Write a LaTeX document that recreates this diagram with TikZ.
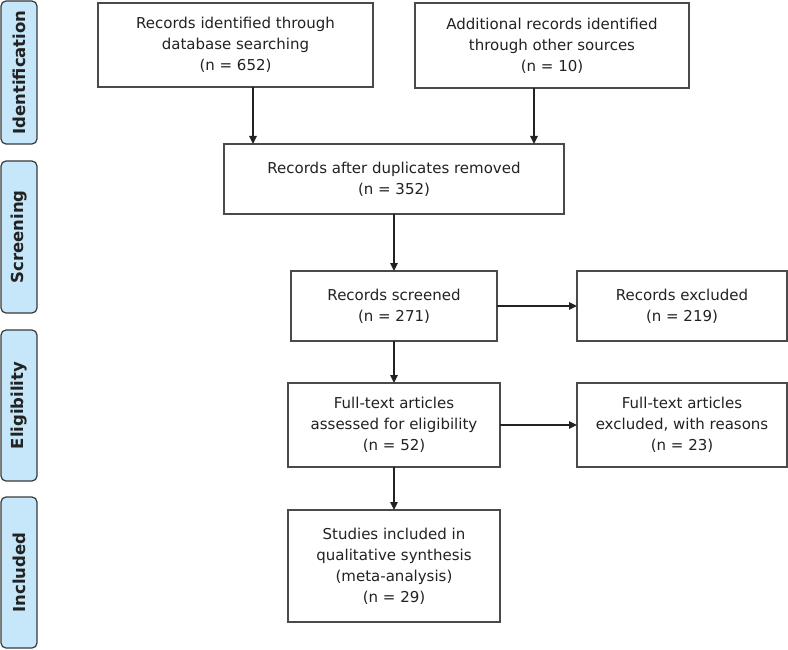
\documentclass[tikz,border=0pt]{standalone}
\usepackage{fontspec}
\setmainfont{DejaVu Sans}
\usetikzlibrary{arrows.meta}
\definecolor{sidefill}{HTML}{C6E7F9}
\definecolor{sideline}{HTML}{3A3A3A}
\definecolor{boxline}{HTML}{4A4A4A}
\definecolor{txt}{HTML}{222222}
\tikzset{
  box/.style={draw=boxline, line width=1.3pt, fill=white, inner sep=0pt, outer sep=0pt,
    align=center, text=txt, font=\fontsize{15}{21}\selectfont},
  side/.style={draw=sideline, line width=1.2pt, fill=sidefill, rounded corners=5pt,
    inner sep=0pt, outer sep=0pt, minimum width=36pt, text=txt,
    font=\fontsize{16.5}{18}\selectfont\bfseries},
  arr/.style={draw=txt, line width=1.3pt, -{Triangle[length=8pt,width=7.5pt]}}
}
\begin{document}
\begin{tikzpicture}[x=1pt,y=-1pt]
\useasboundingbox (0,0) rectangle (788,650);
% side labels
\node[side, minimum height=143pt] (S1) at (19,72.5) {\rotatebox{90}{Identification}};
\node[side, minimum height=152pt] (S2) at (19,237) {\rotatebox{90}{Screening}};
\node[side, minimum height=151pt] (S3) at (19,405.5) {\rotatebox{90}{Eligibility}};
\node[side, minimum height=151pt] (S4) at (19,572.5) {\rotatebox{90}{Included}};
% boxes
\node[box, minimum width=275pt, minimum height=84pt] (B1) at (235.5,45) {Records identified through\\database searching\\(n = 652)};
\node[box, minimum width=274pt, minimum height=85pt] (B2) at (552,45.5) {Additional records identified\\through other sources\\(n = 10)};
\node[box, minimum width=340pt, minimum height=70pt] (B3) at (394,179) {Records after duplicates removed\\(n = 352)};
\node[box, minimum width=206pt, minimum height=70pt] (B4) at (394,306) {Records screened\\(n = 271)};
\node[box, minimum width=210pt, minimum height=70pt] (B5) at (682,306) {Records excluded\\(n = 219)};
\node[box, minimum width=212pt, minimum height=84pt] (B6) at (394,425) {Full-text articles\\assessed for eligibility\\(n = 52)};
\node[box, minimum width=210pt, minimum height=84pt] (B7) at (682,425) {Full-text articles\\excluded, with reasons\\(n = 23)};
\node[box, minimum width=212pt, minimum height=112pt] (B8) at (394,566) {Studies included in\\qualitative synthesis\\(meta-analysis)\\(n = 29)};
% connectors
\draw[arr] ([xshift=17.5pt]B1.south) -- ([xshift=17.5pt]B1.south |- B3.north);
\draw[arr] ([xshift=-18pt]B2.south) -- ([xshift=-18pt]B2.south |- B3.north);
\draw[arr] (B3.south) -- (B4.north);
\draw[arr] (B4.south) -- (B6.north);
\draw[arr] (B6.south) -- (B8.north);
\draw[arr] (B4.east) -- (B5.west);
\draw[arr] (B6.east) -- (B7.west);
\end{tikzpicture}
\end{document}
